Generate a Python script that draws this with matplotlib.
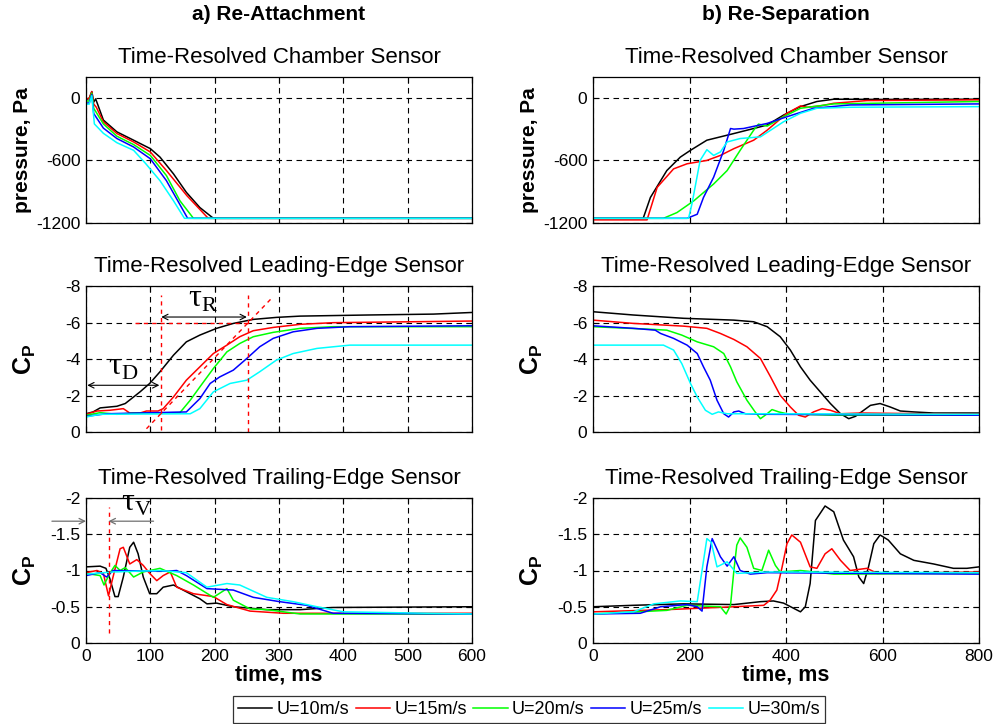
import numpy as np
import matplotlib
matplotlib.use('Agg')
import matplotlib.pyplot as plt
from matplotlib.ticker import FormatStrFormatter

plt.rcParams['font.family'] = 'Liberation Sans'
plt.rcParams['axes.unicode_minus'] = False
plt.rcParams['mathtext.fontset'] = 'custom'
plt.rcParams['mathtext.rm'] = 'Liberation Serif'
plt.rcParams['mathtext.bf'] = 'Liberation Sans:bold'

speeds = ['U=10m/s', 'U=15m/s', 'U=20m/s', 'U=25m/s', 'U=30m/s']
colors = ['#000000', '#ff0000', '#00ff00', '#0000ff', '#00ffff']

# ---- a) re-attachment, chamber pressure (t ms, Pa)
att_ch_10 = np.array([(0, -15), (5, -5), (9, 60), (12, -40), (15, -10), (18, -60), (27, -213), (48, -326), (74, -406),
                      (100, -487), (115, -568), (136, -729), (156, -906), (177, -1052), (198, -1155), (600, -1155)])
att_ch_15 = np.array([(0, -10), (5, -5), (9, 60), (12, -60), (16, -90), (27, -230), (48, -342), (74, -423),
                      (100, -519), (125, -697), (157, -939), (190, -1155), (600, -1155)])
att_ch_20 = np.array([(0, -30), (5, -30), (9, 45), (12, -100), (27, -250), (48, -368), (74, -448), (100, -552),
                      (125, -745), (146, -987), (167, -1155), (600, -1155)])
att_ch_25 = np.array([(0, -50), (5, -50), (9, 30), (12, -150), (27, -290), (48, -390), (74, -471), (100, -584),
                      (125, -794), (158, -1155), (600, -1155)])
att_ch_30 = np.array([(0, -60), (5, -60), (9, 20), (13, -250), (27, -340), (48, -430), (74, -503), (93, -632),
                      (115, -794), (136, -987), (153, -1155), (600, -1155)])

# ---- b) re-separation, chamber pressure
sep_ch_10 = np.array([(0, -1155), (104, -1155), (119, -955), (153, -697), (181, -568), (202, -503), (236, -406),
                      (292, -342), (333, -294), (361, -260), (395, -165), (430, -84), (464, -35), (499, -13),
                      (600, -15), (800, -13)])
sep_ch_15 = np.array([(0, -1170), (112, -1170), (133, -858), (167, -681), (195, -632), (236, -600), (264, -552),
                      (292, -487), (333, -406), (361, -310), (402, -148), (430, -77), (444, -90), (471, -77),
                      (499, -52), (568, -26), (800, -19)])
sep_ch_20 = np.array([(0, -1155), (146, -1155), (174, -1100), (209, -987), (250, -826), (278, -697), (305, -503),
                      (333, -310), (343, -252), (361, -271), (395, -181), (430, -100), (499, -58), (800, -35)])
sep_ch_25 = np.array([(0, -1155), (195, -1155), (216, -1116), (229, -955), (250, -761), (271, -503), (285, -294),
                      (292, -300), (312, -294), (361, -245), (402, -181), (457, -100), (533, -68), (800, -58)])
sep_ch_30 = np.array([(0, -1155), (198, -1155), (205, -1019), (222, -600), (236, -497), (250, -552), (264, -519),
                      (278, -423), (305, -390), (347, -374), (395, -229), (430, -148), (464, -100), (533, -90),
                      (800, -84)])

# ---- a) re-attachment, leading-edge Cp
att_le_10 = np.array([(0, -1.0), (11, -1.1), (22, -1.32), (48, -1.41), (61, -1.56), (74, -1.92), (84, -2.2),
                      (99, -2.66), (115, -3.3), (136, -4.21), (156, -4.94), (177, -5.31), (203, -5.68),
                      (229, -5.95), (260, -6.17), (296, -6.28), (333, -6.35), (436, -6.41), (540, -6.46),
                      (600, -6.55)])
att_le_15 = np.array([(0, -0.97), (17, -1.15), (37, -1.19), (58, -1.28), (68, -1.04), (84, -1.04), (94, -1.15),
                      (112, -1.15), (120, -1.28), (136, -1.92), (156, -2.84), (177, -3.57), (198, -4.3),
                      (219, -4.76), (239, -5.22), (260, -5.55), (291, -5.73), (333, -5.9), (384, -5.99),
                      (600, -6.08)])
att_le_20 = np.array([(0, -0.92), (22, -1.06), (48, -0.97), (74, -1.04), (146, -1.06), (162, -1.74), (177, -2.47),
                      (198, -3.48), (219, -4.39), (239, -4.85), (260, -5.22), (291, -5.46), (333, -5.68),
                      (384, -5.77), (600, -5.77)])
att_le_25 = np.array([(0, -0.86), (32, -1.0), (156, -1.1), (177, -1.83), (193, -2.66), (208, -3.02), (229, -3.39),
                      (250, -4.03), (270, -4.67), (291, -5.13), (322, -5.49), (359, -5.68), (410, -5.77),
                      (600, -5.82)])
att_le_30 = np.array([(0, -0.82), (22, -0.97), (162, -1.0), (177, -1.28), (198, -2.2), (224, -2.66), (250, -2.84),
                      (270, -3.3), (296, -3.94), (322, -4.3), (359, -4.58), (410, -4.76), (600, -4.76)])

# ---- b) re-separation, leading-edge Cp
sep_le_10 = np.array([(0, -6.59), (84, -6.41), (188, -6.23), (292, -6.13), (333, -6.04), (361, -5.77), (388, -5.22),
                      (409, -4.49), (430, -3.57), (450, -2.84), (471, -2.2), (492, -1.56), (513, -1.0),
                      (530, -0.73), (544, -0.86), (561, -1.19), (575, -1.46), (595, -1.56), (616, -1.37),
                      (637, -1.15), (665, -1.1), (706, -1.04), (800, -1.04)])
sep_le_15 = np.array([(0, -6.13), (84, -5.95), (188, -5.8), (236, -5.68), (264, -5.4), (292, -5.07), (319, -4.67),
                      (347, -4.03), (368, -3.02), (388, -2.01), (409, -1.37), (426, -0.92), (440, -0.82),
                      (457, -1.1), (475, -1.28), (492, -1.19), (513, -1.0), (554, -1.04), (800, -0.97)])
sep_le_20 = np.array([(0, -5.77), (126, -5.62), (153, -5.58), (184, -5.31), (216, -4.94), (250, -4.67), (271, -4.3),
                      (285, -3.57), (298, -2.75), (319, -1.74), (336, -1.1), (347, -0.73), (361, -1.0),
                      (371, -1.23), (385, -1.1), (402, -1.0), (430, -0.97), (499, -0.92), (800, -0.92)])
sep_le_25 = np.array([(0, -5.82), (84, -5.68), (129, -5.58), (140, -5.4), (167, -5.13), (195, -4.76), (216, -4.3),
                      (229, -3.57), (243, -2.84), (257, -1.74), (271, -1.0), (281, -0.82), (292, -1.1),
                      (302, -1.15), (316, -1.0), (361, -0.97), (800, -0.92)])
sep_le_30 = np.array([(0, -4.76), (146, -4.76), (167, -4.49), (184, -3.75), (202, -2.66), (216, -1.92), (233, -1.19),
                      (247, -0.97), (260, -1.1), (278, -1.0), (361, -1.0), (800, -0.97)])

# ---- a) re-attachment, trailing-edge Cp
att_te_10 = np.array([(0, -1.05), (22, -1.06), (31, -1.03), (37, -0.89), (45, -0.64), (50, -0.64), (58, -0.91),
                      (68, -1.32), (74, -1.39), (81, -1.23), (89, -0.91), (99, -0.68), (110, -0.68), (120, -0.77),
                      (136, -0.8), (151, -0.73), (177, -0.61), (188, -0.54), (203, -0.55), (229, -0.5),
                      (281, -0.46), (333, -0.46), (384, -0.49), (600, -0.5)])
att_te_15 = np.array([(0, -0.97), (17, -1.0), (27, -0.96), (35, -0.65), (42, -0.91), (53, -1.3), (58, -1.32),
                      (68, -1.09), (79, -1.15), (89, -1.07), (99, -0.96), (110, -0.86), (120, -0.93), (131, -0.98),
                      (141, -0.77), (167, -0.68), (198, -0.64), (219, -0.53), (255, -0.44), (307, -0.41),
                      (600, -0.41)])
att_te_20 = np.array([(0, -0.96), (22, -0.93), (28, -0.8), (37, -0.96), (45, -1.07), (53, -1.0), (61, -1.04),
                      (74, -0.91), (89, -0.98), (115, -1.03), (141, -0.93), (167, -0.8), (198, -0.63),
                      (219, -0.75), (229, -0.59), (255, -0.47), (281, -0.46), (333, -0.4), (600, -0.4)])
att_te_25 = np.array([(0, -0.93), (22, -0.97), (32, -0.91), (42, -1.0), (125, -0.99), (141, -1.0), (156, -0.93),
                      (188, -0.75), (229, -0.73), (260, -0.63), (301, -0.57), (343, -0.52), (384, -0.41),
                      (600, -0.4)])
att_te_30 = np.array([(0, -0.95), (42, -0.98), (115, -1.0), (156, -0.97), (188, -0.77), (219, -0.82), (239, -0.8),
                      (281, -0.63), (322, -0.57), (359, -0.5), (400, -0.43), (600, -0.4)])

# ---- b) re-separation, trailing-edge Cp
sep_te_10 = np.array([(0, -0.5), (84, -0.52), (188, -0.54), (292, -0.53), (347, -0.57), (374, -0.58), (395, -0.55),
                      (430, -0.43), (440, -0.5), (450, -0.82), (461, -1.69), (481, -1.89), (499, -1.81),
                      (519, -1.42), (540, -1.19), (551, -0.91), (561, -0.82), (571, -1.05), (582, -1.37),
                      (595, -1.49), (612, -1.42), (637, -1.23), (665, -1.14), (706, -1.09), (747, -1.03),
                      (775, -1.03), (800, -1.05)])
sep_te_15 = np.array([(0, -0.43), (153, -0.46), (292, -0.5), (354, -0.52), (367, -0.59), (381, -0.73), (392, -1.05),
                      (402, -1.37), (412, -1.49), (430, -1.39), (450, -1.05), (464, -1.03), (481, -1.23),
                      (495, -1.3), (513, -1.14), (533, -1.0), (568, -1.03), (589, -0.96), (800, -0.98)])
sep_te_20 = np.array([(0, -0.4), (153, -0.45), (195, -0.52), (264, -0.5), (276, -0.4), (285, -0.52), (292, -1.0),
                      (298, -1.35), (305, -1.45), (319, -1.32), (333, -1.03), (350, -1.0), (364, -1.28),
                      (378, -1.07), (388, -0.98), (430, -1.0), (499, -0.95), (800, -0.96)])
sep_te_25 = np.array([(0, -0.4), (98, -0.41), (140, -0.5), (195, -0.53), (216, -0.5), (226, -0.44), (236, -1.05),
                      (247, -1.44), (264, -1.19), (278, -1.06), (292, -1.19), (305, -1.0), (326, -0.95),
                      (361, -0.97), (800, -0.95)])
sep_te_30 = np.array([(0, -0.4), (84, -0.43), (126, -0.54), (181, -0.58), (216, -0.57), (226, -1.0), (236, -1.44),
                      (245, -1.39), (257, -1.05), (278, -1.12), (298, -0.96), (361, -0.98), (800, -0.97)])

W, H = 993, 724
fig = plt.figure(figsize=(W / 100, H / 100), dpi=100)


def box(x0, x1, y0, y1):
    return [x0 / W, 1 - y1 / H, (x1 - x0) / W, (y1 - y0) / H]


col_x = [(86, 472), (593, 979)]
row_y = [(77, 223), (286, 432), (498, 643)]
titles = ['Time-Resolved Chamber Sensor', 'Time-Resolved Leading-Edge Sensor', 'Time-Resolved Trailing-Edge Sensor']

panels = [
    [[att_ch_10, att_ch_15, att_ch_20, att_ch_25, att_ch_30],
     [att_le_10, att_le_15, att_le_20, att_le_25, att_le_30],
     [att_te_10, att_te_15, att_te_20, att_te_25, att_te_30]],
    [[sep_ch_10, sep_ch_15, sep_ch_20, sep_ch_25, sep_ch_30],
     [sep_le_10, sep_le_15, sep_le_20, sep_le_25, sep_le_30],
     [sep_te_10, sep_te_15, sep_te_20, sep_te_25, sep_te_30]],
]

axes = {}
for c in range(2):
    tmax = 600 if c == 0 else 800
    xstep = 100 if c == 0 else 200
    for r in range(3):
        ax = fig.add_axes(box(col_x[c][0], col_x[c][1], row_y[r][0], row_y[r][1]))
        axes[(c, r)] = ax
        for data, col, lab in zip(panels[c][r], colors, speeds):
            ax.plot(data[:, 0], data[:, 1], color=col, lw=1.1, label=lab)
        ax.set_xlim(0, tmax)
        ax.set_xticks(np.arange(0, tmax + 1, xstep))
        if r == 0:
            ax.set_ylim(-1200, 200)
            ax.set_yticks([-1200, -600, 0])
            ax.set_ylabel('pressure, Pa', fontsize=15, fontweight='bold')
            ax.yaxis.set_label_coords(-0.14, 0.5)
        else:
            if r == 1:
                ax.set_ylim(0, -8)
                ax.set_yticks([0, -2, -4, -6, -8])
            else:
                ax.set_ylim(0, -2)
                ax.set_yticks([0, -0.5, -1, -1.5, -2])
            ax.set_ylabel(r'$\mathbf{C_P}$', fontsize=18)
            ax.yaxis.set_label_coords(-0.125, 0.5)
        ax.yaxis.set_major_formatter(FormatStrFormatter('%g'))
        ax.grid(True, color='black', linestyle=(0, (5, 4)), lw=0.8)
        ax.set_axisbelow(True)
        ax.tick_params(direction='in', top=True, right=True, length=4, labelsize=12.5, pad=4)
        if r < 2:
            ax.tick_params(labelbottom=False)
        else:
            ax.set_xlabel('time, ms', fontsize=15.5, fontweight='bold', labelpad=1)
        ax.set_title(titles[r], fontsize=16, pad=10)
        for s in ax.spines.values():
            s.set_linewidth(0.9)

fig.text(279 / W, 1 - 15 / H, 'a) Re-Attachment', ha='center', va='center', fontsize=15, fontweight='bold')
fig.text(786 / W, 1 - 15 / H, 'b) Re-Separation', ha='center', va='center', fontsize=15, fontweight='bold')

# annotations on the re-attachment leading-edge panel
ax = axes[(0, 1)]
red_dash = dict(color='#ff0000', lw=1.0, linestyle=(0, (3, 3)))
ax.plot([76, 252], [-6, -6], **red_dash)
ax.plot([117, 117], [-0.1, -7.5], **red_dash)
ax.plot([252, 252], [0, -7.5], **red_dash)
ax.plot([94, 291], [-0.18, -7.42], **red_dash)
ax.annotate('', xy=(250, -6.3), xytext=(117, -6.3),
            arrowprops=dict(arrowstyle='<->', lw=0.8, color='black', shrinkA=0, shrinkB=0))
ax.annotate('', xy=(114, -2.56), xytext=(2, -2.56),
            arrowprops=dict(arrowstyle='<->', lw=0.8, color='black', shrinkA=0, shrinkB=0))
ax.text(182, -6.45, r'τ$_\mathrm{R}$', family='Liberation Serif', fontsize=23, ha='center', va='bottom')
ax.text(58, -2.72, r'τ$_\mathrm{D}$', family='Liberation Serif', fontsize=23, ha='center', va='bottom')

# annotations on the re-attachment trailing-edge panel
ax = axes[(0, 2)]
ax.plot([35, 35], [-0.14, -1.88], **red_dash)
ax.annotate('', xy=(0, -1.68), xytext=(-53, -1.68), annotation_clip=False,
            arrowprops=dict(arrowstyle='->', lw=0.9, color='#707070', shrinkA=0, shrinkB=0))
ax.annotate('', xy=(35, -1.68), xytext=(105, -1.68),
            arrowprops=dict(arrowstyle='->', lw=0.9, color='#707070', shrinkA=0, shrinkB=0))
ax.text(79, -1.72, r'τ$_\mathrm{V}$', family='Liberation Serif', fontsize=23, ha='center', va='bottom')

handles = axes[(0, 0)].get_lines()[:5]
leg = fig.legend(handles, speeds, loc='center', bbox_to_anchor=(529 / W, 1 - 709.5 / H), ncol=5,
                 fontsize=13, frameon=True, fancybox=False, edgecolor='black', handlelength=1.9,
                 handletextpad=0.25, columnspacing=0.35, borderpad=0.25, borderaxespad=0)
leg.get_frame().set_linewidth(0.9)

fig.savefig('out.png', dpi=100)
